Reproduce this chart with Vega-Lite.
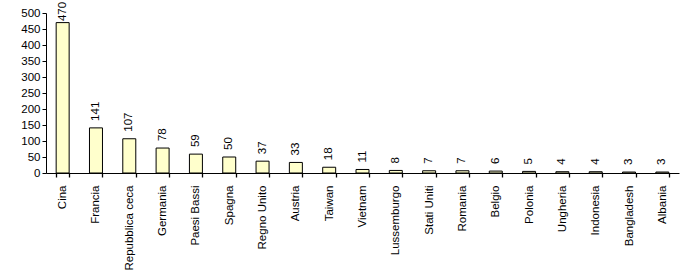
{
  "$schema": "https://vega.github.io/schema/vega-lite/v6.json",
  "width": 633,
  "height": 160,
  "autosize": {"type": "none"},
  "padding": {"left": 46, "top": 13, "right": 21, "bottom": 100},
  "background": "white",
  "config": {
    "view": {"stroke": null},
    "font": "Liberation Sans",
    "axis": {"labelFont": "Liberation Sans", "labelFontSize": 11.5, "labelColor": "black", "domainColor": "black", "tickColor": "black", "grid": false, "title": null}
  },
  "data": {
    "values": [
      {"paese": "Cina", "valore": 470},
      {"paese": "Francia", "valore": 141},
      {"paese": "Repubblica ceca", "valore": 107},
      {"paese": "Germania", "valore": 78},
      {"paese": "Paesi Bassi", "valore": 59},
      {"paese": "Spagna", "valore": 50},
      {"paese": "Regno Unito", "valore": 37},
      {"paese": "Austria", "valore": 33},
      {"paese": "Taiwan", "valore": 18},
      {"paese": "Vietnam", "valore": 11},
      {"paese": "Lussemburgo", "valore": 8},
      {"paese": "Stati Uniti", "valore": 7},
      {"paese": "Romania", "valore": 7},
      {"paese": "Belgio", "valore": 6},
      {"paese": "Polonia", "valore": 5},
      {"paese": "Ungheria", "valore": 4},
      {"paese": "Indonesia", "valore": 4},
      {"paese": "Bangladesh", "valore": 3},
      {"paese": "Albania", "valore": 3}
    ]
  },
  "encoding": {
    "x": {
      "field": "paese", "type": "nominal", "sort": null,
      "scale": {"paddingInner": 0.61, "paddingOuter": 0.305},
      "axis": {"labelAngle": -90, "labelAlign": "right", "labelBaseline": "middle", "ticks": true, "tickBand": "extent", "tickSize": 4, "tickOpacity": 1, "labelPadding": 8, "domainWidth": 1, "tickWidth": 1.3}
    },
    "y": {
      "field": "valore", "type": "quantitative",
      "scale": {"domain": [0, 500], "nice": false},
      "axis": {"values": [0, 50, 100, 150, 200, 250, 300, 350, 400, 450, 500], "tickSize": 4, "labelPadding": 2, "domainWidth": 1, "tickWidth": 1}
    }
  },
  "layer": [
    {"mark": {"type": "bar", "fill": "#FFFFCC", "stroke": "black", "strokeWidth": 1}},
    {"transform": [{"filter": "datum.valore < 400"}],
     "mark": {"type": "text", "angle": 270, "align": "left", "baseline": "middle", "dx": 7, "fontSize": 11.5, "color": "black"},
     "encoding": {"text": {"field": "valore", "type": "quantitative"}}},
    {"transform": [{"filter": "datum.valore >= 400"}],
     "mark": {"type": "text", "angle": 270, "align": "left", "baseline": "middle", "dx": 1.5, "fontSize": 11.5, "color": "black"},
     "encoding": {"text": {"field": "valore", "type": "quantitative"}}}
  ]
}
